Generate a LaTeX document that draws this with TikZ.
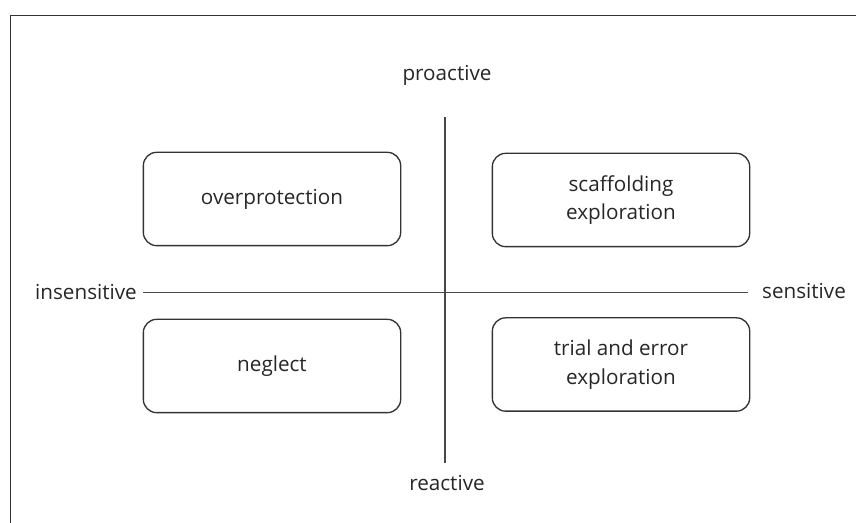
\documentclass[tikz,border=0pt]{standalone}
\usepackage{fontspec}
\setmainfont{Open Sans}
\begin{document}
\begin{tikzpicture}[x=0.75pt,y=-0.75pt,
  quad/.style={draw=black!80,line width=1pt,rounded corners=10pt,minimum width=193pt,minimum height=70pt,align=center,inner sep=0pt,font=\fontsize{15.5}{21.5}\selectfont,text=black!85},
  axlabel/.style={inner sep=0pt,font=\fontsize{15.5}{18}\selectfont,text=black!85},
  axis/.style={draw=black!72,line width=1.3pt},
  frame/.style={draw=black!80,line width=1.1pt}]
\useasboundingbox (0,0) rectangle (856,523);
% frame (only top and left edges visible)
\coordinate (fbl) at (10.5,530);
\coordinate (ftl) at (10.5,15.5);
\coordinate (ftr) at (870,15.5);
\draw[frame] (fbl) -- (ftl) -- (ftr);
% quadrant boxes
\node[quad] (op) at (272,199) {overprotection};
\node[quad] (sc) at (621,200) {scaffolding\\exploration};
\node[quad] (ne) at (272,366) {neglect};
\node[quad] (te) at (621,364.5) {trial and error\\exploration};
% axis labels
\node[axlabel] (pro) at (447,75) {proactive};
\node[axlabel] (rea) at (447,483) {reactive};
\node[axlabel] (ins) at (86,292) {insensitive};
\node[axlabel] (sen) at (804,291) {sensitive};
% axes
\coordinate (vt) at (445,117);
\coordinate (vb) at (445,463);
\coordinate (hl) at (143,292.5);
\coordinate (hr) at (748,292.5);
\draw[axis] (vt) -- (vb);
\draw[axis] (hl) -- (hr);
\end{tikzpicture}
\end{document}
